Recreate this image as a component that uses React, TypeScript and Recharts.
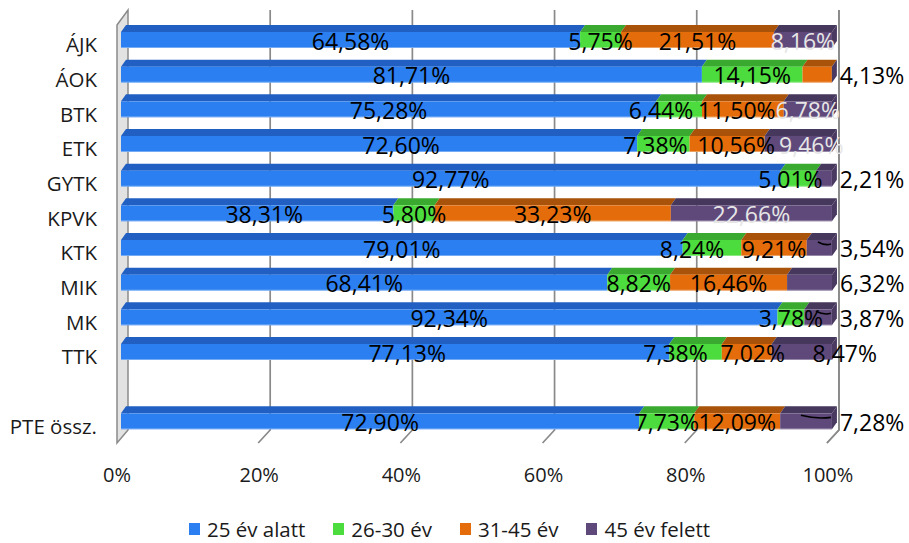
import React from 'react';
import { BarChart, Bar, XAxis, YAxis, CartesianGrid, Legend, LabelList } from 'recharts';

const categories = ['ÁJK', 'ÁOK', 'BTK', 'ETK', 'GYTK', 'KPVK', 'KTK', 'MIK', 'MK', 'TTK', '', 'PTE össz.'];
const under25 = [64.58, 81.71, 75.28, 72.6, 92.77, 38.31, 79.01, 68.41, 92.34, 77.13, null, 72.9];
const age26to30 = [5.75, 14.15, 6.44, 7.38, 5.01, 5.8, 8.24, 8.82, 3.78, 7.38, null, 7.73];
const age31to45 = [21.51, 4.13, 11.5, 10.56, 0, 33.23, 9.21, 16.46, 0, 7.02, null, 12.09];
const over45 = [8.16, 0, 6.78, 9.46, 2.21, 22.66, 3.54, 6.32, 3.87, 8.47, null, 7.28];
const seriesNames = ['25 év alatt', '26-30 év', '31-45 év', '45 év felett'];
const xTicks = [0, 20, 40, 60, 80, 100];

const seriesValues = [under25, age26to30, age31to45, over45];
const keys = ['s0', 's1', 's2', 's3'];

const data = categories.map((c, i) => ({
  cat: c,
  s0: under25[i],
  s1: age26to30[i],
  s2: age31to45[i],
  s3: over45[i],
}));

// styles
const FONT = '"Open Sans", "Noto Sans", sans-serif';
const FRONT = ['#2B7FF0', '#4CDC3D', '#E46C0A', '#5F497A'];
const TOP = ['#2160C2', '#39A92F', '#A9530A', '#46375C'];
const SIDE_COLOR = '#4A3A61';
const DX = 5;
const DY = 7;
const LIGHT_LABEL_ROWS = ['ÁJK', 'BTK', 'ETK', 'KPVK'];
const LABEL_NUDGE: Record<string, number> = {
  'BTK|1': -18, 'BTK|2': -6,
  'ETK|0': 22, 'ETK|1': -8, 'ETK|2': 9, 'ETK|3': 13,
  'GYTK|1': -8, 'KPVK|0': 7, 'KTK|1': -20,
  'TTK|0': 12, 'TTK|1': -20, 'TTK|2': 6, 'TTK|3': 43,
};
// outside labels: value = leader line length
const OUTSIDE: Record<string, number> = {
  'ÁOK|2': 0, 'GYTK|3': 0, 'KTK|3': 13, 'MIK|3': 0, 'MK|3': 15, 'PTE össz.|3': 30,
};

const fmt = (v: number) => v.toFixed(2).replace('.', ',') + '%';

function make3DShape(si: number) {
  return (props: any) => {
    const { x, y, width, height, payload } = props;
    if (payload == null || x == null || y == null || !isFinite(x) || !isFinite(width)) return <g />;
    const vals = [payload.s0, payload.s1, payload.s2, payload.s3];
    if (vals[si] == null) return <g />;
    let last = -1;
    vals.forEach((v: any, i: number) => { if (v) last = i; });
    const w = Math.max(0, width);
    const h = height;
    const parts: any[] = [];
    if (w > 0) {
      parts.push(
        <polygon key="top" points={`${x},${y} ${x + w},${y} ${x + w + DX},${y - DY} ${x + DX},${y - DY}`} fill={TOP[si]} />
      );
      parts.push(<rect key="front" x={x} y={y} width={w} height={h} fill={FRONT[si]} />);
      parts.push(<line key="hl" x1={x} y1={y + h - 0.5} x2={x + w} y2={y + h - 0.5} stroke="#ffffff" strokeOpacity={0.35} strokeWidth={1} />);
    }
    if (si === last) {
      const xe = x + w;
      parts.push(
        <polygon key="side" points={`${xe},${y} ${xe + DX},${y - DY} ${xe + DX},${y + h - DY} ${xe},${y + h}`} fill={SIDE_COLOR} />
      );
    }
    return <g>{parts}</g>;
  };
}

function makeLabel(si: number) {
  return (props: any) => {
    const vb = props.viewBox || props;
    const x = vb.x ?? props.x;
    const y = vb.y ?? props.y;
    const width = vb.width ?? props.width;
    const height = vb.height ?? props.height;
    const index = props.index;
    const value = index != null ? seriesValues[si][index] : props.value;
    if (!value || x == null) return null;
    const cat = categories[index];
    const key = `${cat}|${si}`;
    const cy = y + height / 2;
    const text = fmt(value);
    if (key in OUTSIDE) {
      const xe = x + width;
      const lead = OUTSIDE[key];
      return (
        <g>
          {lead > 0 && (
            <path
              d={`M${xe - lead - 1},${cy - 6} Q${xe - lead / 2},${cy - 2} ${xe - 1},${cy - 4}`}
              stroke="#000"
              fill="none"
              strokeWidth={1.6}
            />
          )}
          <text x={xe + 8} y={cy + 1} dy="0.36em" textAnchor="start" fontFamily={FONT} fontSize={23} fill="#000">
            {text}
          </text>
        </g>
      );
    }
    const nudge = LABEL_NUDGE[key] || 0;
    const light = si === 3 && LIGHT_LABEL_ROWS.includes(cat);
    return (
      <text
        x={x + width / 2 + nudge}
        y={cy + 1.5}
        dy="0.36em"
        textAnchor="middle"
        fontFamily={FONT}
        fontSize={23}
        fill={light ? '#E6E6E6' : '#000'}
      >
        {text}
      </text>
    );
  };
}

const GridLine = (props: any) => {
  const { x1, y1, y2, index } = props;
  const x = x1;
  const top = y1 - 13;
  const backBottom = y2 - 9;
  const frontBottom = y2 + 4;
  if (index === 0) {
    return (
      <g>
        <polygon
          points={`${x - 4},${top + 15} ${x + 7},${top} ${x + 7},${backBottom} ${x - 4},${frontBottom}`}
          fill="#E2E2E2"
          stroke="#8A8A8A"
          strokeWidth={1.5}
        />
      </g>
    );
  }
  return (
    <path
      d={`M${x + 7},${top} L${x + 7},${backBottom} L${x - 5},${frontBottom}`}
      stroke="#8A8A8A"
      strokeWidth={1.7}
      fill="none"
    />
  );
};

const XTick = (props: any) => {
  const { x, y, payload } = props;
  return (
    <text x={x - 4} y={y + 36} dy="0.36em" textAnchor="middle" fontFamily={FONT} fontSize={20} fill="#1a1a1a">
      {payload.value}%
    </text>
  );
};

const YTick = (props: any) => {
  const { x, y, payload } = props;
  return (
    <text x={x} y={y + 4.5} dy="0.36em" textAnchor="end" fontFamily={FONT} fontSize={20.5} fill="#1a1a1a">
      {payload.value}
    </text>
  );
};

const renderLegend = () => (
  <div
    style={{
      display: 'flex',
      justifyContent: 'center',
      gap: 28,
      fontFamily: FONT,
      fontSize: 20.5,
      lineHeight: '28px',
      color: '#1a1a1a',
    }}
  >
    {seriesNames.map((n, i) => (
      <div key={n} style={{ display: 'flex', alignItems: 'center' }}>
        <span style={{ display: 'inline-block', width: 11, height: 12, background: FRONT[i], marginRight: 7 }} />
        <span>{n}</span>
      </div>
    ))}
  </div>
);

export default function App() {
  return (
    <div style={{ position: 'absolute', left: 0, top: 0, width: 909, height: 543, background: '#fff' }}>
      <BarChart
        width={909}
        height={543}
        data={data}
        layout="vertical"
        margin={{ top: 23, right: 77, bottom: 44, left: 8 }}
        barSize={16}
      >
        <CartesianGrid horizontal={false} vertical={GridLine} />
        <XAxis
          type="number"
          domain={[0, 100]}
          ticks={xTicks}
          axisLine={false}
          tickLine={false}
          tickSize={0}
          tickMargin={0}
          height={60}
          tick={XTick}
          interval={0}
        />
        <YAxis
          type="category"
          dataKey="cat"
          width={113}
          axisLine={false}
          tickLine={false}
          tickSize={0}
          tickMargin={24}
          tick={YTick}
          interval={0}
        />
        <Legend
          layout="horizontal"
          verticalAlign="middle"
          align="center"
          content={renderLegend}
          wrapperStyle={{ top: 515, left: 0, width: 899, margin: 0 }}
        />
        {keys.map((k, si) => (
          <Bar key={k} dataKey={k} stackId="a" name={seriesNames[si]} fill={FRONT[si]} shape={make3DShape(si)} isAnimationActive={false}>
            <LabelList dataKey={k} content={makeLabel(si)} />
          </Bar>
        ))}
      </BarChart>
    </div>
  );
}
